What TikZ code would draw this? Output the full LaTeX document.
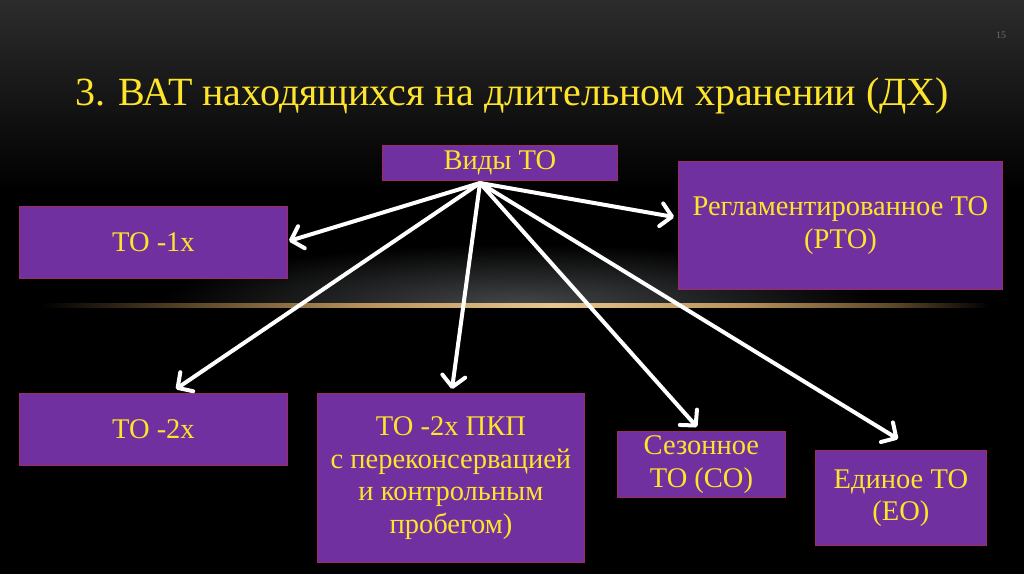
\documentclass[tikz,border=0pt]{standalone}
\usepackage{fontspec}
\setmainfont{Liberation Serif}
\usetikzlibrary{arrows.meta}
\definecolor{boxfill}{HTML}{7030A0}
\definecolor{boxline}{HTML}{9C2C62}
\definecolor{txt}{HTML}{FFE42C}
\definecolor{glowdark}{HTML}{5A4628}
\definecolor{glowmid}{HTML}{B8915A}
\definecolor{glowbright}{HTML}{E8C890}
\definecolor{hazec}{HTML}{444648}
\pgfdeclarehorizontalshading{glowsh}{100bp}{color(0bp)=(black); color(25bp)=(black); color(33bp)=(glowdark); color(42bp)=(glowmid); color(52bp)=(glowbright); color(62bp)=(glowmid); color(70bp)=(glowdark); color(75bp)=(black); color(100bp)=(black)}
\tikzset{
  box/.style={draw=boxline, line width=0.8pt, fill=boxfill, anchor=north west,
    text=txt, align=center, inner sep=0pt, font=\fontsize{28.5}{32.5}\selectfont},
  arr/.style={draw=white, line width=4pt, line cap=round, -{Straight Barb[length=11pt,width=23pt,line cap=round, line join=round]}}
}
\begin{document}
\begin{tikzpicture}[x=1pt,y=-1pt]
\useasboundingbox (0,0) rectangle (1024,574);
\fill[black] (0,0) rectangle (1024,574);
\shade[top color={rgb,255:red,44;green,44;blue,44}, bottom color=black] (0,0) rectangle (1024,190);
% haze and glow line
\begin{scope}
\clip (0,230) rectangle (1024,304);
\shade[inner color=hazec, outer color=black] (520,304) ellipse[x radius=360pt, y radius=60pt];
\end{scope}
\shade[shading=glowsh] (40,303) rectangle (990,307);
% page number and title
\node[text={rgb,255:red,110;green,110;blue,110}, font=\fontsize{10}{12}\selectfont] (pg) at (1001,35) {15};
\node[text=txt, anchor=base west, font=\fontsize{40}{44}\selectfont, inner sep=0pt] (title) at (75,105) {3. ВАТ находящихся на длительном хранении (ДХ)};
% boxes
\node[box, minimum width=235pt, minimum height=35pt] (vidy) at (382,145) {Виды ТО};
\node[box, minimum width=268pt, minimum height=72pt] (to1) at (19,206) {ТО -1х};
\node[box, minimum width=324pt, minimum height=128pt] (rto) at (678,161) {Регламентированное ТО\\(РТО)};
\node[box, minimum width=268pt, minimum height=72pt] (to2) at (19,393) {ТО -2х};
\node[box, minimum width=267pt, minimum height=169pt] (pkp) at (317,393) {ТО -2х ПКП\\с переконсервацией\\и контрольным\\пробегом)};
\node[box, minimum width=168pt, minimum height=66pt] (so) at (617,431) {Сезонное\\ТО (СО)};
\node[box, minimum width=171pt, minimum height=95pt] (eo) at (815,450) {Единое ТО\\(ЕО)};
% arrow source and tips
\coordinate (src) at (480,183);
\coordinate (tip1) at (289,241);
\coordinate (tipr) at (674,217);
\coordinate (tip2) at (176,389);
\coordinate (tipp) at (452,389);
\coordinate (tips) at (697,427);
\coordinate (tipe) at (898,439);
\draw[arr] (src) -- (tip1);
\draw[arr] (src) -- (tipr);
\draw[arr] (src) -- (tip2);
\draw[arr] (src) -- (tipp);
\draw[arr] (src) -- (tips);
\draw[arr] (src) -- (tipe);
\end{tikzpicture}
\end{document}
